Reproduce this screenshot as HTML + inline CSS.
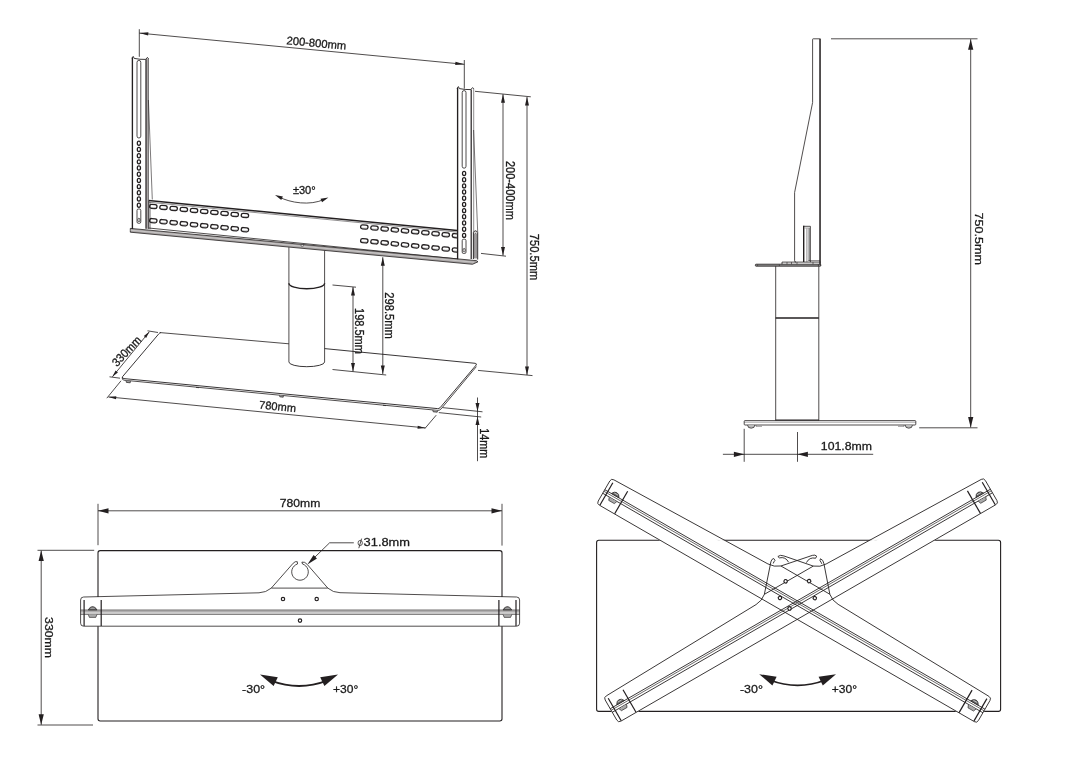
<!DOCTYPE html>
<html><head><meta charset="utf-8"><title>Dimensions</title>
<style>
html,body{margin:0;padding:0;background:#fff;}
body{position:relative;width:1080px;height:761px;overflow:hidden;font-family:"Liberation Sans",sans-serif;}
svg{display:block;will-change:transform;opacity:0.999}
#tx{position:absolute;left:0;top:0;width:1080px;height:761px;will-change:transform;opacity:0.999}
.t{position:absolute;left:0;top:0;white-space:nowrap;line-height:1;transform-origin:0 0;color:#1a1a1a;-webkit-text-stroke:0.3px #1a1a1a;font-family:"Liberation Sans",sans-serif}
</style></head><body>
<svg width="1080" height="761" viewBox="0 0 1080 761" fill="none" stroke="#231f20" stroke-linecap="butt">
<rect x="0" y="0" width="1080" height="761" fill="#fff" stroke="none"/>
<line x1="139.30" y1="29.20" x2="139.30" y2="56.80" stroke-width="0.8" />
<line x1="464.30" y1="60.00" x2="464.30" y2="88.60" stroke-width="0.8" />
<line x1="139.30" y1="33.10" x2="464.30" y2="64.30" stroke-width="0.8" />
<polygon points="139.30,33.10 148.41,32.37 148.11,35.55" fill="#231f20" stroke="none"/>
<polygon points="464.30,64.30 455.19,65.03 455.49,61.85" fill="#231f20" stroke="none"/>
<path d="M148.6,200.60 L457.3,230.50" stroke-width="1.5" fill="none" />
<path d="M148.6,202.20 L457.3,232.10" stroke-width="0.5" fill="none" />
<line x1="148.80" y1="200.60" x2="148.80" y2="228.80" stroke-width="0.9" />
<line x1="150.20" y1="202.00" x2="150.20" y2="229.20" stroke-width="0.5" />
<path d="M148.6,228.00 L457.3,258.90" stroke-width="0.8" fill="none" />
<polygon points="130.3,228.40 476.5,260.65 478,261.79 472.5,264.28 130.3,232.20" fill="#aaa6a6" stroke="#231f20" stroke-width="0.8" stroke-linejoin="round"/>
<path d="M130.3,230.20 L474,262.22" stroke-width="0.5" fill="none" stroke="#e8e8e8"/>
<ellipse cx="302.3" cy="245.62" rx="1.3" ry="0.8" fill="#fff" stroke-width="0.5"/>
<rect x="149.60" y="204.50" width="7.4" height="4" rx="2" stroke-width="1.3" fill="none" transform="rotate(5.6 153.30 206.50)"/>
<path d="M150.70,207.40 Q153.30,208.00 155.90,207.60" stroke-width="0.5" fill="none" stroke="#777"/>
<rect x="149.60" y="218.70" width="7.4" height="4" rx="2" stroke-width="1.3" fill="none" transform="rotate(5.6 153.30 220.70)"/>
<path d="M150.70,221.60 Q153.30,222.20 155.90,221.80" stroke-width="0.5" fill="none" stroke="#777"/>
<rect x="159.78" y="205.50" width="7.4" height="4" rx="2" stroke-width="1.3" fill="none" transform="rotate(5.6 163.48 207.50)"/>
<path d="M160.88,208.40 Q163.48,209.00 166.08,208.60" stroke-width="0.5" fill="none" stroke="#777"/>
<rect x="159.78" y="219.70" width="7.4" height="4" rx="2" stroke-width="1.3" fill="none" transform="rotate(5.6 163.48 221.70)"/>
<path d="M160.88,222.60 Q163.48,223.20 166.08,222.80" stroke-width="0.5" fill="none" stroke="#777"/>
<rect x="169.96" y="206.50" width="7.4" height="4" rx="2" stroke-width="1.3" fill="none" transform="rotate(5.6 173.66 208.50)"/>
<path d="M171.06,209.40 Q173.66,210.00 176.26,209.60" stroke-width="0.5" fill="none" stroke="#777"/>
<rect x="169.96" y="220.70" width="7.4" height="4" rx="2" stroke-width="1.3" fill="none" transform="rotate(5.6 173.66 222.70)"/>
<path d="M171.06,223.60 Q173.66,224.20 176.26,223.80" stroke-width="0.5" fill="none" stroke="#777"/>
<rect x="180.14" y="207.50" width="7.4" height="4" rx="2" stroke-width="1.3" fill="none" transform="rotate(5.6 183.84 209.50)"/>
<path d="M181.24,210.40 Q183.84,211.00 186.44,210.60" stroke-width="0.5" fill="none" stroke="#777"/>
<rect x="180.14" y="221.70" width="7.4" height="4" rx="2" stroke-width="1.3" fill="none" transform="rotate(5.6 183.84 223.70)"/>
<path d="M181.24,224.60 Q183.84,225.20 186.44,224.80" stroke-width="0.5" fill="none" stroke="#777"/>
<rect x="190.32" y="208.50" width="7.4" height="4" rx="2" stroke-width="1.3" fill="none" transform="rotate(5.6 194.02 210.50)"/>
<path d="M191.42,211.40 Q194.02,212.00 196.62,211.60" stroke-width="0.5" fill="none" stroke="#777"/>
<rect x="190.32" y="222.70" width="7.4" height="4" rx="2" stroke-width="1.3" fill="none" transform="rotate(5.6 194.02 224.70)"/>
<path d="M191.42,225.60 Q194.02,226.20 196.62,225.80" stroke-width="0.5" fill="none" stroke="#777"/>
<rect x="200.50" y="209.50" width="7.4" height="4" rx="2" stroke-width="1.3" fill="none" transform="rotate(5.6 204.20 211.50)"/>
<path d="M201.60,212.40 Q204.20,213.00 206.80,212.60" stroke-width="0.5" fill="none" stroke="#777"/>
<rect x="200.50" y="223.70" width="7.4" height="4" rx="2" stroke-width="1.3" fill="none" transform="rotate(5.6 204.20 225.70)"/>
<path d="M201.60,226.60 Q204.20,227.20 206.80,226.80" stroke-width="0.5" fill="none" stroke="#777"/>
<rect x="210.68" y="210.50" width="7.4" height="4" rx="2" stroke-width="1.3" fill="none" transform="rotate(5.6 214.38 212.50)"/>
<path d="M211.78,213.40 Q214.38,214.00 216.98,213.60" stroke-width="0.5" fill="none" stroke="#777"/>
<rect x="210.68" y="224.70" width="7.4" height="4" rx="2" stroke-width="1.3" fill="none" transform="rotate(5.6 214.38 226.70)"/>
<path d="M211.78,227.60 Q214.38,228.20 216.98,227.80" stroke-width="0.5" fill="none" stroke="#777"/>
<rect x="220.86" y="211.50" width="7.4" height="4" rx="2" stroke-width="1.3" fill="none" transform="rotate(5.6 224.56 213.50)"/>
<path d="M221.96,214.40 Q224.56,215.00 227.16,214.60" stroke-width="0.5" fill="none" stroke="#777"/>
<rect x="220.86" y="225.70" width="7.4" height="4" rx="2" stroke-width="1.3" fill="none" transform="rotate(5.6 224.56 227.70)"/>
<path d="M221.96,228.60 Q224.56,229.20 227.16,228.80" stroke-width="0.5" fill="none" stroke="#777"/>
<rect x="231.04" y="212.50" width="7.4" height="4" rx="2" stroke-width="1.3" fill="none" transform="rotate(5.6 234.74 214.50)"/>
<path d="M232.14,215.40 Q234.74,216.00 237.34,215.60" stroke-width="0.5" fill="none" stroke="#777"/>
<rect x="231.04" y="226.70" width="7.4" height="4" rx="2" stroke-width="1.3" fill="none" transform="rotate(5.6 234.74 228.70)"/>
<path d="M232.14,229.60 Q234.74,230.20 237.34,229.80" stroke-width="0.5" fill="none" stroke="#777"/>
<rect x="241.22" y="213.50" width="7.4" height="4" rx="2" stroke-width="1.3" fill="none" transform="rotate(5.6 244.92 215.50)"/>
<path d="M242.32,216.40 Q244.92,217.00 247.52,216.60" stroke-width="0.5" fill="none" stroke="#777"/>
<rect x="241.22" y="227.70" width="7.4" height="4" rx="2" stroke-width="1.3" fill="none" transform="rotate(5.6 244.92 229.70)"/>
<path d="M242.32,230.60 Q244.92,231.20 247.52,230.80" stroke-width="0.5" fill="none" stroke="#777"/>
<clipPath id="cl1"><rect x="350" y="200" width="107.0" height="70"/></clipPath><g clip-path="url(#cl1)">
<rect x="360.60" y="225.00" width="7.4" height="4" rx="2" stroke-width="1.3" fill="none" transform="rotate(5.6 364.30 227.00)"/>
<path d="M361.70,227.90 Q364.30,228.50 366.90,228.10" stroke-width="0.5" fill="none" stroke="#777"/>
<rect x="360.60" y="238.80" width="7.4" height="4" rx="2" stroke-width="1.3" fill="none" transform="rotate(5.6 364.30 240.80)"/>
<path d="M361.70,241.70 Q364.30,242.30 366.90,241.90" stroke-width="0.5" fill="none" stroke="#777"/>
<rect x="370.78" y="225.97" width="7.4" height="4" rx="2" stroke-width="1.3" fill="none" transform="rotate(5.6 374.48 227.97)"/>
<path d="M371.88,228.87 Q374.48,229.47 377.08,229.06" stroke-width="0.5" fill="none" stroke="#777"/>
<rect x="370.78" y="239.82" width="7.4" height="4" rx="2" stroke-width="1.3" fill="none" transform="rotate(5.6 374.48 241.82)"/>
<path d="M371.88,242.72 Q374.48,243.32 377.08,242.92" stroke-width="0.5" fill="none" stroke="#777"/>
<rect x="380.96" y="226.93" width="7.4" height="4" rx="2" stroke-width="1.3" fill="none" transform="rotate(5.6 384.66 228.93)"/>
<path d="M382.06,229.83 Q384.66,230.43 387.26,230.03" stroke-width="0.5" fill="none" stroke="#777"/>
<rect x="380.96" y="240.84" width="7.4" height="4" rx="2" stroke-width="1.3" fill="none" transform="rotate(5.6 384.66 242.84)"/>
<path d="M382.06,243.74 Q384.66,244.34 387.26,243.94" stroke-width="0.5" fill="none" stroke="#777"/>
<rect x="391.14" y="227.90" width="7.4" height="4" rx="2" stroke-width="1.3" fill="none" transform="rotate(5.6 394.84 229.90)"/>
<path d="M392.24,230.80 Q394.84,231.40 397.44,231.00" stroke-width="0.5" fill="none" stroke="#777"/>
<rect x="391.14" y="241.86" width="7.4" height="4" rx="2" stroke-width="1.3" fill="none" transform="rotate(5.6 394.84 243.86)"/>
<path d="M392.24,244.76 Q394.84,245.36 397.44,244.96" stroke-width="0.5" fill="none" stroke="#777"/>
<rect x="401.32" y="228.86" width="7.4" height="4" rx="2" stroke-width="1.3" fill="none" transform="rotate(5.6 405.02 230.86)"/>
<path d="M402.42,231.76 Q405.02,232.36 407.62,231.96" stroke-width="0.5" fill="none" stroke="#777"/>
<rect x="401.32" y="242.88" width="7.4" height="4" rx="2" stroke-width="1.3" fill="none" transform="rotate(5.6 405.02 244.88)"/>
<path d="M402.42,245.78 Q405.02,246.38 407.62,245.98" stroke-width="0.5" fill="none" stroke="#777"/>
<rect x="411.50" y="229.82" width="7.4" height="4" rx="2" stroke-width="1.3" fill="none" transform="rotate(5.6 415.20 231.82)"/>
<path d="M412.60,232.72 Q415.20,233.32 417.80,232.92" stroke-width="0.5" fill="none" stroke="#777"/>
<rect x="411.50" y="243.90" width="7.4" height="4" rx="2" stroke-width="1.3" fill="none" transform="rotate(5.6 415.20 245.90)"/>
<path d="M412.60,246.80 Q415.20,247.40 417.80,247.00" stroke-width="0.5" fill="none" stroke="#777"/>
<rect x="421.68" y="230.79" width="7.4" height="4" rx="2" stroke-width="1.3" fill="none" transform="rotate(5.6 425.38 232.79)"/>
<path d="M422.78,233.69 Q425.38,234.29 427.98,233.89" stroke-width="0.5" fill="none" stroke="#777"/>
<rect x="421.68" y="244.92" width="7.4" height="4" rx="2" stroke-width="1.3" fill="none" transform="rotate(5.6 425.38 246.92)"/>
<path d="M422.78,247.82 Q425.38,248.42 427.98,248.02" stroke-width="0.5" fill="none" stroke="#777"/>
<rect x="431.86" y="231.75" width="7.4" height="4" rx="2" stroke-width="1.3" fill="none" transform="rotate(5.6 435.56 233.75)"/>
<path d="M432.96,234.66 Q435.56,235.25 438.16,234.85" stroke-width="0.5" fill="none" stroke="#777"/>
<rect x="431.86" y="245.94" width="7.4" height="4" rx="2" stroke-width="1.3" fill="none" transform="rotate(5.6 435.56 247.94)"/>
<path d="M432.96,248.84 Q435.56,249.44 438.16,249.04" stroke-width="0.5" fill="none" stroke="#777"/>
<rect x="442.04" y="232.72" width="7.4" height="4" rx="2" stroke-width="1.3" fill="none" transform="rotate(5.6 445.74 234.72)"/>
<path d="M443.14,235.62 Q445.74,236.22 448.34,235.82" stroke-width="0.5" fill="none" stroke="#777"/>
<rect x="442.04" y="246.96" width="7.4" height="4" rx="2" stroke-width="1.3" fill="none" transform="rotate(5.6 445.74 248.96)"/>
<path d="M443.14,249.86 Q445.74,250.46 448.34,250.06" stroke-width="0.5" fill="none" stroke="#777"/>
<rect x="452.22" y="233.69" width="7.4" height="4" rx="2" stroke-width="1.3" fill="none" transform="rotate(5.6 455.92 235.69)"/>
<path d="M453.32,236.59 Q455.92,237.19 458.52,236.78" stroke-width="0.5" fill="none" stroke="#777"/>
<rect x="452.22" y="247.98" width="7.4" height="4" rx="2" stroke-width="1.3" fill="none" transform="rotate(5.6 455.92 249.98)"/>
<path d="M453.32,250.88 Q455.92,251.48 458.52,251.08" stroke-width="0.5" fill="none" stroke="#777"/>
</g>
<g transform="translate(0,0)">
<rect x="146.2" y="58.4" width="2.3" height="170.4" fill="#a8a4a4" stroke="none"/>
<path d="M132.4,57.6 L132.4,229" stroke-width="1.35" fill="none" />
<path d="M131.9,58.2 L133.2,56.4 L134.2,58.4 Q140,59.6 145.6,59.4 L147.4,57.4 L148.5,58.6" stroke-width="0.9" fill="none" />
<path d="M146.0,59.2 L146.0,228.8" stroke-width="1.2" fill="none" />
<path d="M148.5,58.4 L148.5,228.8" stroke-width="0.5" fill="none" />
<rect x="137" y="60.4" width="3.8" height="77.6" rx="1.9" stroke-width="0.8" fill="none"/>
<ellipse cx="138.9" cy="143.30" rx="1.6" ry="2.1" stroke-width="1.25" fill="none"/>
<ellipse cx="138.9" cy="149.49" rx="1.6" ry="2.1" stroke-width="1.25" fill="none"/>
<ellipse cx="138.9" cy="155.68" rx="1.6" ry="2.1" stroke-width="1.25" fill="none"/>
<ellipse cx="138.9" cy="161.87" rx="1.6" ry="2.1" stroke-width="1.25" fill="none"/>
<ellipse cx="138.9" cy="168.06" rx="1.6" ry="2.1" stroke-width="1.25" fill="none"/>
<ellipse cx="138.9" cy="174.25" rx="1.6" ry="2.1" stroke-width="1.25" fill="none"/>
<ellipse cx="138.9" cy="180.44" rx="1.6" ry="2.1" stroke-width="1.25" fill="none"/>
<ellipse cx="138.9" cy="186.63" rx="1.6" ry="2.1" stroke-width="1.25" fill="none"/>
<ellipse cx="138.9" cy="192.82" rx="1.6" ry="2.1" stroke-width="1.25" fill="none"/>
<ellipse cx="138.9" cy="199.01" rx="1.6" ry="2.1" stroke-width="1.25" fill="none"/>
<ellipse cx="138.9" cy="205.20" rx="1.6" ry="2.1" stroke-width="1.25" fill="none"/>
<rect x="137" y="209" width="3.8" height="14.3" rx="1.4" stroke-width="0.8" fill="none"/>
<ellipse cx="138.9" cy="220" rx="1.1" ry="1.8" stroke-width="0.7" fill="none"/>
</g>
<line x1="148.40" y1="100.00" x2="152.30" y2="199.50" stroke-width="0.6" />
<g transform="translate(325.2,30.2)">
<path d="M132.4,57.6 L132.4,229" stroke-width="1.35" fill="none" />
<path d="M131.9,58.2 L133.2,56.4 L134.2,58.4 Q140,59.6 145.6,59.4 L147.4,57.4 L148.5,58.6" stroke-width="0.9" fill="none" />
<path d="M146.0,59.2 L146.0,228.8" stroke-width="1.2" fill="none" />
<path d="M148.5,58.4 L148.5,228.8" stroke-width="0.5" fill="none" />
<rect x="137" y="60.4" width="3.8" height="77.6" rx="1.9" stroke-width="0.8" fill="none"/>
<ellipse cx="138.9" cy="143.30" rx="1.6" ry="2.1" stroke-width="1.25" fill="none"/>
<ellipse cx="138.9" cy="149.49" rx="1.6" ry="2.1" stroke-width="1.25" fill="none"/>
<ellipse cx="138.9" cy="155.68" rx="1.6" ry="2.1" stroke-width="1.25" fill="none"/>
<ellipse cx="138.9" cy="161.87" rx="1.6" ry="2.1" stroke-width="1.25" fill="none"/>
<ellipse cx="138.9" cy="168.06" rx="1.6" ry="2.1" stroke-width="1.25" fill="none"/>
<ellipse cx="138.9" cy="174.25" rx="1.6" ry="2.1" stroke-width="1.25" fill="none"/>
<ellipse cx="138.9" cy="180.44" rx="1.6" ry="2.1" stroke-width="1.25" fill="none"/>
<ellipse cx="138.9" cy="186.63" rx="1.6" ry="2.1" stroke-width="1.25" fill="none"/>
<ellipse cx="138.9" cy="192.82" rx="1.6" ry="2.1" stroke-width="1.25" fill="none"/>
<ellipse cx="138.9" cy="199.01" rx="1.6" ry="2.1" stroke-width="1.25" fill="none"/>
<ellipse cx="138.9" cy="205.20" rx="1.6" ry="2.1" stroke-width="1.25" fill="none"/>
<rect x="137" y="209" width="3.8" height="14.3" rx="1.4" stroke-width="0.8" fill="none"/>
<ellipse cx="138.9" cy="220" rx="1.1" ry="1.8" stroke-width="0.7" fill="none"/>
</g>
<line x1="473.60" y1="130.00" x2="477.70" y2="232.00" stroke-width="0.6" />
<path d="M473.4,259 L473.4,232.5 Q475.4,229 477.7,232.5 L477.7,259.5" stroke-width="0.9" fill="#d4d2d2" />
<path d="M474.8,258 L474.8,234 Q475.5,232.5 476.2,234 L476.2,258" stroke-width="0.5" fill="none" />
<line x1="288.90" y1="247.20" x2="288.90" y2="362.00" stroke-width="0.8" />
<line x1="324.60" y1="250.60" x2="324.60" y2="362.00" stroke-width="0.8" />
<path d="M288.9,283.2 A17.85,5.6 0 0 0 324.6,283.2" stroke-width="1.4" fill="none" />
<path d="M288.9,362 A17.85,4.7 0 0 0 324.6,362" stroke-width="0.9" fill="none" />
<path d="M160.2,332.6 L288.9,343.8" stroke-width="0.8" fill="none" />
<path d="M324.6,348.6 L475.2,363.3 Q477,363.6 476.2,365 L440.2,407.6 Q439,408.8 437.4,408.6 L124,378.6 Q121.6,378.2 122.6,376.6 L159,333.6 Q159.6,332.5 161,332.7" stroke-width="0.9" fill="none" />
<path d="M122.2,377.4 Q121.8,379.8 124,380.2 L437.8,410.4 Q439.8,410.4 441,409 L476.4,366.6" stroke-width="0.8" fill="none" />
<path d="M126,380.6 L126.4,382.4 L130.2,382.8 L130.4,381" stroke-width="0.7" fill="#999" />
<path d="M279.5,395.4 L279.8,396.8 L283.2,397.2 L283.4,395.8" stroke-width="0.7" fill="#999" />
<path d="M432.8,410 L433.2,411.8 L437.2,412.2 L437.6,410.6" stroke-width="0.7" fill="#999" />
<path d="M196,387.4 L199,387.7 M383,405.3 L386,405.6" stroke-width="0.8" fill="none" />
<line x1="147.50" y1="330.80" x2="158.00" y2="332.50" stroke-width="0.8" />
<line x1="109.50" y1="376.80" x2="120.00" y2="378.20" stroke-width="0.8" />
<line x1="149.30" y1="331.80" x2="112.40" y2="376.80" stroke-width="0.8" />
<polygon points="149.30,331.80 146.15,338.01 143.83,336.11" fill="#231f20" stroke="none"/>
<polygon points="112.40,376.80 115.55,370.59 117.87,372.49" fill="#231f20" stroke="none"/>
<line x1="121.00" y1="380.80" x2="106.80" y2="398.20" stroke-width="0.8" />
<line x1="436.20" y1="415.20" x2="424.80" y2="428.60" stroke-width="0.8" />
<line x1="108.40" y1="396.90" x2="425.40" y2="427.90" stroke-width="0.8" />
<polygon points="108.40,396.90 116.31,396.17 116.02,399.15" fill="#231f20" stroke="none"/>
<polygon points="425.40,427.90 417.49,428.63 417.78,425.65" fill="#231f20" stroke="none"/>
<line x1="477.50" y1="397.50" x2="477.50" y2="461.20" stroke-width="0.8" />
<polygon points="477.50,411.40 475.50,402.90 479.50,402.90" fill="#231f20" stroke="none"/>
<polygon points="477.50,416.40 479.50,424.90 475.50,424.90" fill="#231f20" stroke="none"/>
<line x1="442.50" y1="407.60" x2="482.50" y2="411.80" stroke-width="0.8" />
<line x1="438.80" y1="412.60" x2="481.20" y2="417.00" stroke-width="0.8" />
<line x1="332.50" y1="285.00" x2="356.00" y2="287.20" stroke-width="0.8" />
<line x1="332.50" y1="369.50" x2="386.20" y2="375.00" stroke-width="0.8" />
<line x1="353.00" y1="287.00" x2="353.00" y2="371.40" stroke-width="0.8" />
<polygon points="353.00,287.00 355.00,295.50 351.00,295.50" fill="#231f20" stroke="none"/>
<polygon points="353.00,371.40 351.00,362.90 355.00,362.90" fill="#231f20" stroke="none"/>
<line x1="382.80" y1="257.20" x2="382.80" y2="374.00" stroke-width="0.8" />
<polygon points="382.80,257.20 384.80,265.70 380.80,265.70" fill="#231f20" stroke="none"/>
<polygon points="382.80,374.00 380.80,365.50 384.80,365.50" fill="#231f20" stroke="none"/>
<line x1="475.00" y1="91.30" x2="530.80" y2="96.80" stroke-width="0.8" />
<line x1="481.00" y1="253.40" x2="506.00" y2="256.20" stroke-width="0.8" />
<line x1="503.00" y1="94.20" x2="503.00" y2="255.60" stroke-width="0.8" />
<polygon points="503.00,94.20 505.00,102.70 501.00,102.70" fill="#231f20" stroke="none"/>
<polygon points="503.00,255.60 501.00,247.10 505.00,247.10" fill="#231f20" stroke="none"/>
<line x1="478.00" y1="370.40" x2="532.50" y2="375.60" stroke-width="0.8" />
<line x1="527.00" y1="97.00" x2="527.00" y2="375.00" stroke-width="0.8" />
<polygon points="527.00,97.00 529.00,105.50 525.00,105.50" fill="#231f20" stroke="none"/>
<polygon points="527.00,375.00 525.00,366.50 529.00,366.50" fill="#231f20" stroke="none"/>
<path d="M279.5,197.2 C290,202.6 310,206.2 324.5,199.2" stroke-width="0.8" fill="none" />
<polygon points="275.00,195.00 282.87,196.56 281.27,200.01" fill="#231f20" stroke="none"/>
<polygon points="328.40,197.40 322.02,202.28 320.49,198.80" fill="#231f20" stroke="none"/>
<path d="M812.6,39.4 Q812.6,38.8 813.2,38.8 L820.4,38.8 L820.4,266 M812.6,39.4 L812.6,102.5 L794.6,192.5 L794.6,260.8 Q794.6,262.1 796,262.1" stroke-width="0.8" fill="none" />
<line x1="819.80" y1="39.00" x2="819.80" y2="266.00" stroke-width="1.0" />
<line x1="803.70" y1="225.80" x2="803.70" y2="262.10" stroke-width="1.4" />
<path d="M803.2,226.3 L810.4,226.3 L810.4,262.1" stroke-width="0.8" fill="none" />
<rect x="808.4" y="227.6" width="1.8" height="33.4" fill="#8a8a8a" stroke="none"/>
<line x1="806.90" y1="228.40" x2="806.90" y2="262.10" stroke-width="0.5" />
<line x1="804.60" y1="228.00" x2="808.40" y2="228.00" stroke-width="0.4" />
<rect x="755.4" y="264.2" width="65.4" height="2.0" rx="0.6" fill="#8f8f8f" stroke-width="0.8"/>
<path d="M782,264.2 L782,262.1 L820.6,262.1" stroke-width="0.8" fill="none" />
<path d="M808.4,260.7 L820,260.7" stroke-width="0.6" fill="none" />
<path d="M787,262.1 L787,264.2 M791.5,262.1 L791.5,264.2 M797,262.1 L797,264.2 M813,262.1 L813,264.2 M757.6,264.6 L757.6,265.8 M779.4,264.6 L779.4,265.8 M818.4,264.4 L818.4,266" stroke-width="0.6" fill="none" />
<line x1="775.70" y1="266.20" x2="775.70" y2="420.60" stroke-width="0.8" />
<line x1="818.80" y1="266.20" x2="818.80" y2="420.60" stroke-width="0.8" />
<line x1="775.60" y1="318.00" x2="818.80" y2="318.00" stroke-width="1.5" />
<path d="M745,420.6 L915,420.6 Q915.8,420.6 915.8,421.4 L915.8,424.2 Q915.8,425 915,425 L745,425 Q744.2,425 744.2,424.2 L744.2,421.4 Q744.2,420.6 745,420.6 Z" stroke-width="0.8" fill="none" />
<line x1="744.20" y1="422.20" x2="915.80" y2="422.20" stroke-width="0.4" />
<line x1="775.60" y1="420.00" x2="818.80" y2="420.00" stroke-width="1.0" />
<path d="M747.6,425 Q747.6,428.2 751.2,428.2 Q754.8,428.2 754.8,425" stroke-width="0.7" fill="#bbb" />
<path d="M905.2,425 Q905.2,428.2 908.8,428.2 Q912.4,428.2 912.4,425" stroke-width="0.7" fill="#bbb" />
<path d="M756,425 L756,426.4 L762,426.4 M904,425 L904,426.4 L898,426.4" stroke-width="0.4" fill="none" />
<line x1="831.00" y1="38.80" x2="977.50" y2="38.80" stroke-width="0.8" />
<line x1="919.20" y1="427.80" x2="977.50" y2="427.80" stroke-width="0.8" />
<line x1="970.70" y1="39.20" x2="970.70" y2="427.40" stroke-width="0.8" />
<polygon points="970.70,39.20 973.30,49.70 968.10,49.70" fill="#231f20" stroke="none"/>
<polygon points="970.70,427.40 968.10,416.90 973.30,416.90" fill="#231f20" stroke="none"/>
<line x1="744.20" y1="428.80" x2="744.20" y2="461.80" stroke-width="0.8" />
<line x1="797.50" y1="432.00" x2="797.50" y2="461.80" stroke-width="0.8" />
<line x1="722.90" y1="454.30" x2="873.20" y2="454.30" stroke-width="0.8" />
<polygon points="744.40,454.30 733.90,456.90 733.90,451.70" fill="#231f20" stroke="none"/>
<polygon points="797.40,454.30 807.90,451.70 807.90,456.90" fill="#231f20" stroke="none"/>
<defs>
<g id="armbase">
<path d="M297.3,561.7 Q295.2,561 293.2,563.2 L271.3,588.1 Q266,592.6 259,592.8 L83.6,597 Q80.6,597 80.6,600 L80.6,623.2 Q80.6,626.2 83.6,626.2 L516.6,626.2 Q519.6,626.2 519.6,623.2 L519.6,600 Q519.6,597 516.6,597 L340,592.7 Q333,592.6 327.8,588.1 L307.4,564.6 Q304.8,561.4 301.9,562.1" stroke-width="0.8" fill="none" stroke-linejoin="round"/>
<line x1="271.30" y1="588.10" x2="327.80" y2="588.10" stroke-width="0.8" />
<line x1="80.60" y1="610.10" x2="519.60" y2="610.10" stroke-width="0.8" />
<line x1="80.60" y1="611.90" x2="519.60" y2="611.90" stroke-width="0.6" />
<line x1="80.60" y1="614.20" x2="519.60" y2="614.20" stroke-width="0.8" />
<line x1="84.10" y1="600.00" x2="84.10" y2="626.00" stroke-width="1.2" />
<line x1="101.20" y1="600.00" x2="101.20" y2="626.00" stroke-width="1.2" />
<line x1="498.90" y1="600.00" x2="498.90" y2="626.00" stroke-width="1.2" />
<line x1="516.00" y1="600.00" x2="516.00" y2="626.00" stroke-width="1.2" />
<path d="M88.19999999999999,610 Q89.8,606.6 92.6,606.6 Q95.39999999999999,606.6 97.0,610 Z" stroke-width="0.6" fill="#666" />
<path d="M90.39999999999999,608.2 L94.8,608.2" stroke-width="0.7" fill="none" stroke="#ddd"/>
<path d="M88.19999999999999,614.4 L89.39999999999999,617.4 L95.8,617.4 L97.0,614.4" stroke-width="0.6" fill="#aaa" />
<path d="M503.0,610 Q504.59999999999997,606.6 507.4,606.6 Q510.2,606.6 511.79999999999995,610 Z" stroke-width="0.6" fill="#666" />
<path d="M505.2,608.2 L509.59999999999997,608.2" stroke-width="0.7" fill="none" stroke="#ddd"/>
<path d="M503.0,614.4 L504.2,617.4 L510.59999999999997,617.4 L511.79999999999995,614.4" stroke-width="0.6" fill="#aaa" />
</g>
<g id="holes3">
<circle cx="283" cy="599" r="1.7" stroke-width="1.15" fill="#fff"/>
<circle cx="316.7" cy="599" r="1.7" stroke-width="1.15" fill="#fff"/>
<circle cx="300" cy="620.6" r="1.7" stroke-width="1.15" fill="#fff"/>
</g>
</defs>
<clipPath id="cl3"><path d="M0,480 H560 V761 H0 Z M80.6,597 H519.6 V626.2 H80.6 Z" clip-rule="evenodd"/></clipPath>
<path d="M100.2,550.6 L499.8,550.6 Q502,550.6 502,552.8 L502,718.8 Q502,721 499.8,721 L100.2,721 Q98,721 98,718.8 L98,552.8 Q98,550.6 100.2,550.6 Z" stroke-width="1.1" fill="none" clip-path="url(#cl3)"/>
<use href="#armbase"/><use href="#holes3"/>
<path d="M297.3,561.7 L297.5,564.0 A8.3,8.3 0 1 0 302.5,564.0 L301.9,562.1" stroke-width="0.8" fill="none" />
<path d="M353.8,542.8 L329.6,542.8 L310.5,561.4" stroke-width="0.8" fill="none" />
<polygon points="307.40,564.40 313.58,554.99 316.94,558.41" fill="#231f20" stroke="none"/>
<ellipse cx="360.2" cy="543" rx="2.2" ry="2.6" stroke-width="0.7" fill="none"/>
<line x1="361.60" y1="538.60" x2="358.80" y2="548.20" stroke-width="0.8" />
<line x1="98.00" y1="503.80" x2="98.00" y2="545.20" stroke-width="0.8" />
<line x1="502.00" y1="503.80" x2="502.00" y2="545.60" stroke-width="0.8" />
<line x1="98.00" y1="510.80" x2="502.00" y2="510.80" stroke-width="0.8" />
<polygon points="98.00,510.80 108.50,508.20 108.50,513.40" fill="#231f20" stroke="none"/>
<polygon points="502.00,510.80 491.50,513.40 491.50,508.20" fill="#231f20" stroke="none"/>
<line x1="37.50" y1="550.30" x2="94.20" y2="550.30" stroke-width="0.8" />
<line x1="37.50" y1="725.00" x2="93.00" y2="725.00" stroke-width="0.8" />
<line x1="41.20" y1="550.60" x2="41.20" y2="724.80" stroke-width="0.8" />
<polygon points="41.20,550.60 43.80,561.10 38.60,561.10" fill="#231f20" stroke="none"/>
<polygon points="41.20,724.80 38.60,714.30 43.80,714.30" fill="#231f20" stroke="none"/>
<path d="M271,680.6 Q299.2,691.4 327,680.6" stroke-width="1.8" fill="none" />
<polygon points="260,674.6 277.8,677.2 273.6,686" fill="#231f20" stroke="none"/>
<polygon points="338,674.6 320.2,677.2 324.4,686" fill="#231f20" stroke="none"/>
<mask id="m4" maskUnits="userSpaceOnUse" x="560" y="460" width="520" height="301"><rect x="560" y="460" width="520" height="301" fill="#fff"/>
<rect x="80.6" y="597" width="439" height="29.2" fill="#000" transform="translate(797.2,594.5) rotate(30) translate(-299.65,-604.65)"/>
<rect x="80.6" y="597" width="439" height="29.2" fill="#000" transform="translate(797.2,594.5) rotate(-30) translate(-299.65,-604.65)"/>
<polygon points="150,597 259,592.6 340,592.6 450,597" fill="#000" transform="translate(797.2,594.5) rotate(30) translate(-299.65,-604.65)"/>
<polygon points="150,597 259,592.6 340,592.6 450,597" fill="#000" transform="translate(797.2,594.5) rotate(-30) translate(-299.65,-604.65)"/>
</mask>
<path d="M598.8,540.2 L998.4,540.2 Q1000.6,540.2 1000.6,542.4 L1000.6,709.2 Q1000.6,711.4 998.4,711.4 L598.8,711.4 Q596.6,711.4 596.6,709.2 L596.6,542.4 Q596.6,540.2 598.8,540.2 Z" stroke-width="1.1" fill="none" mask="url(#m4)"/>
<use href="#armbase" transform="translate(797.2,594.5) rotate(30) translate(-299.65,-604.65)"/>
<use href="#armbase" transform="translate(797.2,594.5) rotate(-30) translate(-299.65,-604.65)"/>
<use href="#holes3" transform="translate(797.2,594.5) rotate(30) translate(-299.65,-604.65)"/>
<g transform="translate(797.2,594.5) rotate(-30) translate(-299.65,-604.65)"><circle cx="283" cy="599" r="1.7" stroke-width="1.15" fill="#fff"/><circle cx="316.7" cy="599" r="1.7" stroke-width="1.15" fill="#fff"/></g>
<g transform="translate(797.2,594.5) rotate(30) translate(-299.65,-604.65)">
<path d="M297.3,561.7 L297.5,564.0 A8.3,8.3 0 0 0 291.7,572.4" stroke-width="0.8" fill="none" />
<path d="M301.9,562.1 L302.5,564.0 A8.3,8.3 0 0 1 305.6,565.8" stroke-width="0.8" fill="none" />
</g>
<g transform="translate(797.2,594.5) rotate(-30) translate(-299.65,-604.65)">
<path d="M301.9,562.1 L302.5,564.0 A8.3,8.3 0 0 1 308.3,572.4" stroke-width="0.8" fill="none" />
<path d="M297.3,561.7 L297.5,564.0 A8.3,8.3 0 0 0 294.4,565.8" stroke-width="0.8" fill="none" />
</g>
<path d="M769.8,680.0 Q797.6,690.8 825.4,680.0" stroke-width="1.8" fill="none" />
<polygon points="759.2,674.2 776.6,676.8 772.4,685.4" fill="#231f20" stroke="none"/>
<polygon points="836,674.2 818.6,676.8 822.8,685.4" fill="#231f20" stroke="none"/>
</svg>
<div id="tx">
<div class="t" style="font-size:11.2px;transform:translate(316.00px,47.40px) rotate(5.3deg) scale(1.0040,1.0000) translate(-50%,-0.8465em)">200-800mm</div>
<div class="t" style="font-size:11.8px;transform:translate(130.20px,354.60px) rotate(-46.5deg) scale(0.9276,1.0000) translate(-50%,-0.8465em)">330mm</div>
<div class="t" style="font-size:11.2px;transform:translate(277.20px,410.80px) rotate(5.6deg) scale(0.9907,1.0000) translate(-50%,-0.8465em)">780mm</div>
<div class="t" style="font-size:12.0px;transform:translate(480.20px,443.20px) rotate(90deg) scale(0.8998,1.0000) translate(-50%,-0.8465em)">14mm</div>
<div class="t" style="font-size:12.0px;transform:translate(355.20px,331.00px) rotate(90deg) scale(0.9196,1.0000) translate(-50%,-0.8465em)">198.5mm</div>
<div class="t" style="font-size:12.0px;transform:translate(385.20px,315.60px) rotate(90deg) scale(0.9296,1.0000) translate(-50%,-0.8465em)">298.5mm</div>
<div class="t" style="font-size:12.0px;transform:translate(505.80px,190.40px) rotate(90deg) scale(0.9214,1.0000) translate(-50%,-0.8465em)">200-400mm</div>
<div class="t" style="font-size:12.0px;transform:translate(529.60px,257.00px) rotate(90deg) scale(0.9296,1.0000) translate(-50%,-0.8465em)">750.5mm</div>
<div class="t" style="font-size:11.2px;transform:translate(304.30px,194.00px) scale(0.9877,0.9602) translate(-50%,-0.8465em)">±30°</div>
<div class="t" style="font-size:12.3px;transform:translate(975.00px,238.80px) rotate(90deg) scale(1.0239,0.9197) translate(-50%,-0.8465em)">750.5mm</div>
<div class="t" style="font-size:12.3px;transform:translate(846.40px,450.00px) scale(0.9986,0.9084) translate(-50%,-0.8465em)">101.8mm</div>
<div class="t" style="font-size:12.3px;transform:translate(363.60px,546.80px) scale(1.0443,0.8857) translate(0,-0.8465em)">31.8mm</div>
<div class="t" style="font-size:12.3px;transform:translate(300.00px,506.90px) scale(0.9899,0.9425) translate(-50%,-0.8465em)">780mm</div>
<div class="t" style="font-size:12.3px;transform:translate(45.00px,637.60px) rotate(90deg) scale(0.9997,0.9197) translate(-50%,-0.8465em)">330mm</div>
<div class="t" style="font-size:12.3px;transform:translate(253.60px,693.30px) scale(1.0134,0.9084) translate(-50%,-0.8465em)">-30°</div>
<div class="t" style="font-size:12.3px;transform:translate(345.60px,693.30px) scale(0.9813,0.9084) translate(-50%,-0.8465em)">+30°</div>
<div class="t" style="font-size:12.3px;transform:translate(751.40px,693.30px) scale(1.0134,0.9084) translate(-50%,-0.8465em)">-30°</div>
<div class="t" style="font-size:12.3px;transform:translate(844.40px,693.30px) scale(0.9813,0.9084) translate(-50%,-0.8465em)">+30°</div>
</div>
</body></html>
